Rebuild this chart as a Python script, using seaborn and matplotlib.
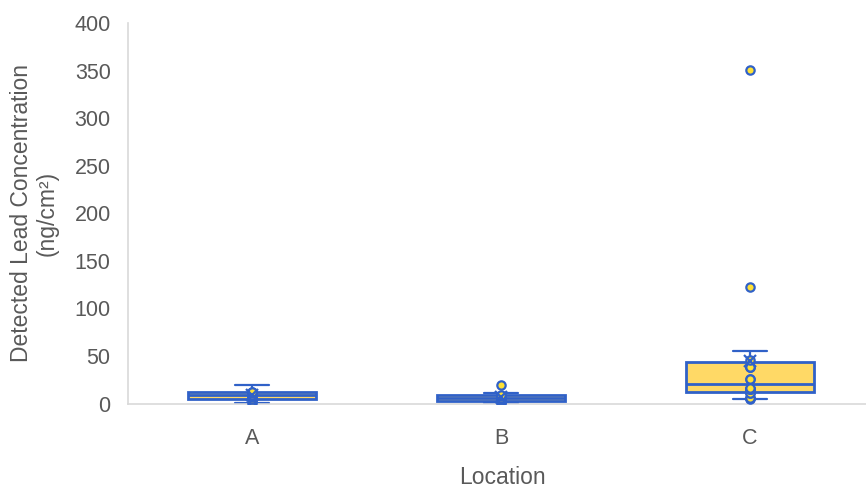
import pandas as pd
import matplotlib
matplotlib.use("Agg")
import matplotlib.pyplot as plt
import seaborn as sns

# Значения по локациям (оценены по рисунку), нг/см²
locations = ["A", "B", "C"]
values_a = [0.5, 3.0, 4.5, 6.5, 8.0, 9.4, 11.0, 12.2, 12.5, 19.8]
values_b = [0.2, 2.0, 2.5, 4.5, 5.0, 6.0, 8.4, 9.2, 11.5, 19.8]
values_c = [5.2, 6.3, 6.3, 6.3, 10.7, 10.7, 15.6, 15.6, 15.6, 15.6, 16.0,
            26.0, 26.0, 38.0, 38.0, 38.0, 45.73, 55.6, 55.6, 55.6,
            122.8, 350.7]

BLUE = "#3061C8"
FILL = "#FFD966"
DOT = "#FFE135"
GREY = "#595959"


def inner_points(df):
    # точки как в Excel: без верхнего конца уса
    keep = []
    for loc, g in df.groupby("Location"):
        q1, q3 = g["conc"].quantile([0.25, 0.75])
        fence = q3 + 1.5 * (q3 - q1)
        top = g.loc[g["conc"] <= fence, "conc"].max()
        keep.append(g[g["conc"] != top])
    return pd.concat(keep)


def main():
    df = pd.DataFrame({
        "Location": ["A"] * len(values_a) + ["B"] * len(values_b) + ["C"] * len(values_c),
        "conc": values_a + values_b + values_c,
    })

    sns.set_theme(style="white")
    plt.rcParams["font.family"] = ["Liberation Sans", "DejaVu Sans"]

    fig = plt.figure(figsize=(8.66, 4.88), dpi=100)
    ax = fig.add_axes([128 / 866, (488 - 403.5) / 488, 738 / 866, 380.5 / 488])

    sns.boxplot(
        data=df, x="Location", y="conc", order=locations,
        width=0.514, color=FILL, saturation=1, linecolor=BLUE, linewidth=2,
        showfliers=False, showmeans=True,
        meanprops=dict(marker="x", markeredgecolor=BLUE, markerfacecolor=BLUE,
                       markersize=9, markeredgewidth=1.6, zorder=5),
        whiskerprops=dict(linewidth=1.6), capprops=dict(linewidth=1.6),
        capwidths=0.14, ax=ax,
    )
    sns.stripplot(
        data=inner_points(df), x="Location", y="conc", order=locations,
        jitter=False, marker="o", color=DOT, edgecolor=BLUE,
        linewidth=1.6, size=6, zorder=4, ax=ax,
    )

    ax.set_xlim(-0.498, 2.466)
    ax.set_ylim(0, 400)
    ax.set_yticks(range(0, 401, 50))

    for side in ["top", "right"]:
        ax.spines[side].set_visible(False)
    for side in ["left", "bottom"]:
        ax.spines[side].set_color("#D9D9D9")
        ax.spines[side].set_linewidth(1.2)

    ax.tick_params(axis="both", length=0, labelsize=15.5, labelcolor=GREY)
    ax.tick_params(axis="y", pad=12.5)
    ax.tick_params(axis="x", pad=18)

    ax.set_xlabel("Location", fontsize=16.5, color=GREY)
    ax.set_ylabel("Detected Lead Concentration\n(ng/cm²)", fontsize=16.5, color=GREY,
                  linespacing=1.1)
    ax.xaxis.set_label_coords(0.507, -0.165)
    ax.yaxis.set_label_coords(-0.127, 0.5)
    ax.yaxis.label.set_va("center")

    fig.savefig("out.png", dpi=100)


if __name__ == "__main__":
    main()
